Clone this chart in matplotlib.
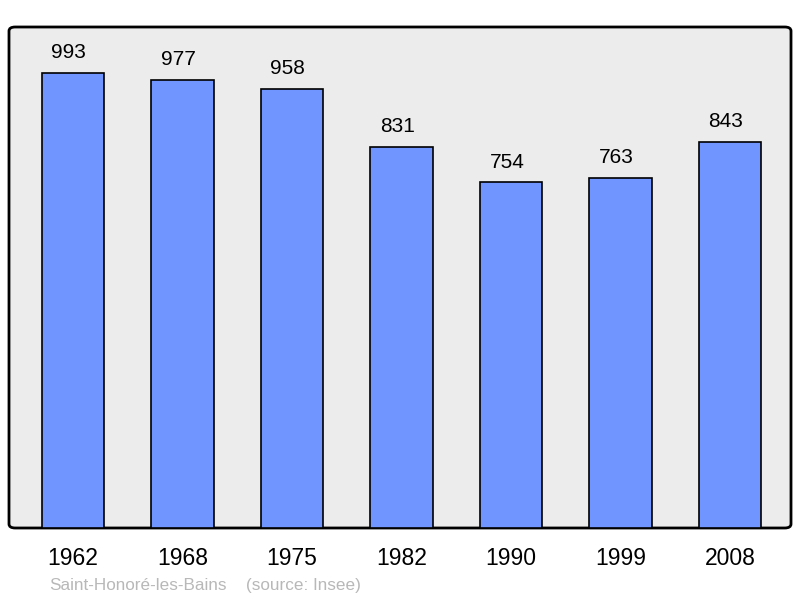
import matplotlib
matplotlib.use("Agg")
import matplotlib.pyplot as plt
from matplotlib.patches import FancyBboxPatch

years = ["1962", "1968", "1975", "1982", "1990", "1999", "2008"]
population = [993, 977, 958, 831, 754, 763, 843]
place = "Saint-Honoré-les-Bains"
source = "(source: Insee)"

plt.rcParams['font.family'] = ['Liberation Sans', 'DejaVu Sans']

fig = plt.figure(figsize=(8, 5.98), dpi=100)
ax = fig.add_axes([9/800, 70/598, 782/800, 501/598])
ax.set_xlim(-0.584, 6.557)
ax.set_ylim(0, 1093)
ax.patch.set_visible(False)
for s in ax.spines.values():
    s.set_visible(False)

frame = FancyBboxPatch((0, 0), 1, 1, boxstyle="round,pad=0,rounding_size=0.008",
                       transform=ax.transAxes, facecolor="#ececec", edgecolor="black",
                       linewidth=2, zorder=0, clip_on=False)
ax.add_patch(frame)

x = list(range(len(years)))
bars = ax.bar(x, population, width=0.571, color="#7095ff", edgecolor="black",
              linewidth=1.2, zorder=2)
for xi, v in zip(x, population):
    ax.annotate(str(v), (xi, v), xytext=(-3, 7.8), textcoords="offset points",
                ha="center", va="bottom", fontsize=15, color="black")

ax.set_xticks(x)
ax.set_xticklabels(years, fontsize=16.5)
ax.tick_params(axis="x", length=0, pad=13.5)
ax.set_yticks([])

fig.text(49/800, 1 - 590/598, place, fontsize=12.3, color="#b8b8b8", ha="left", va="baseline")
fig.text(246/800, 1 - 590/598, source, fontsize=12.3, color="#b8b8b8", ha="left", va="baseline")

fig.savefig("out.png", dpi=100)
